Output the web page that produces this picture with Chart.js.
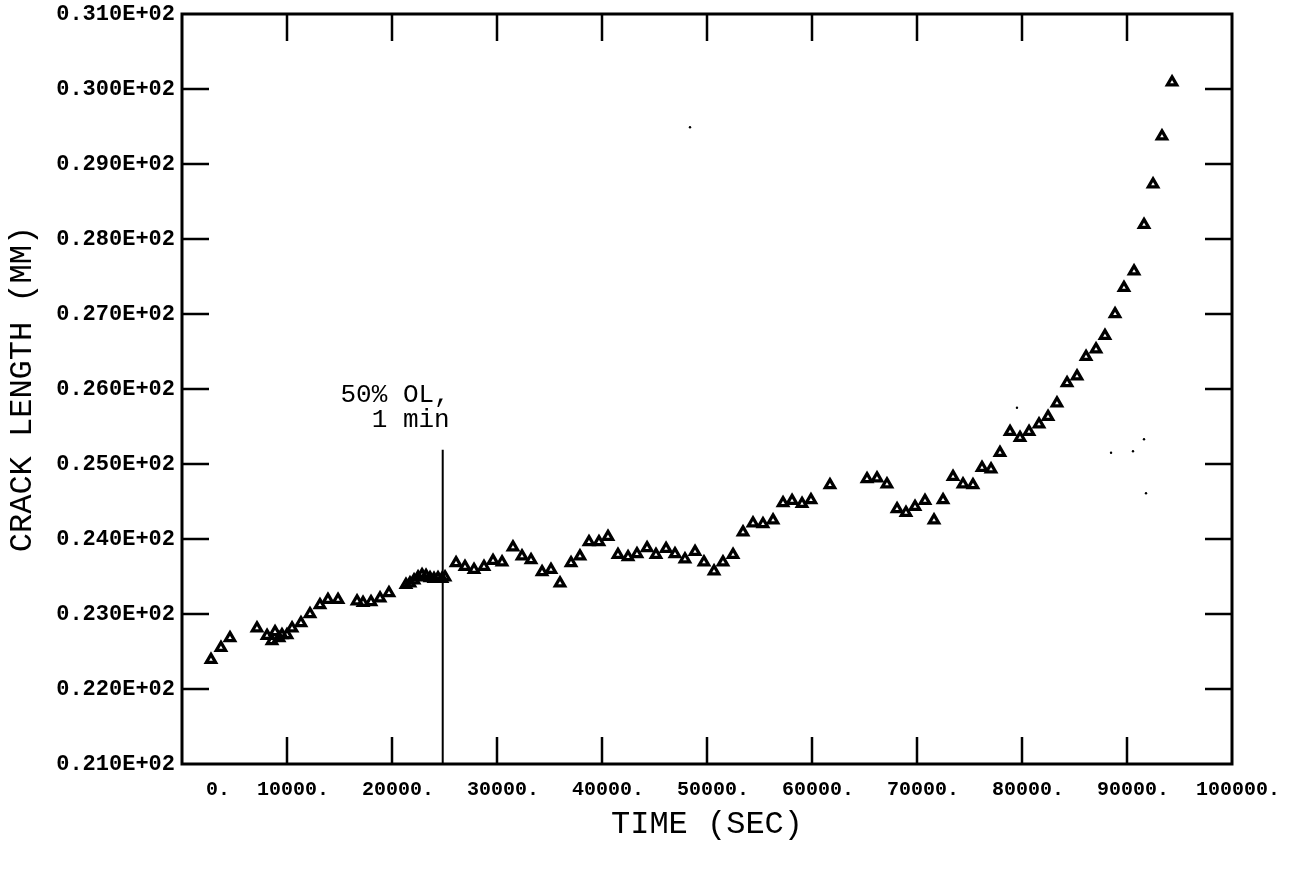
<!DOCTYPE html>
<html>
<head>
<meta charset="utf-8">
<script src="https://cdn.jsdelivr.net/npm/chart.js@4.4.1/dist/chart.umd.min.js"></script>
<style>
html,body{margin:0;padding:0;background:#fff;}
#wrap{width:1293px;height:871px;}
canvas{display:block;}
</style>
</head>
<body>
<div id="wrap"><canvas id="c" width="1293" height="871"></canvas></div>
<script>
// ---- data ----
const timeSec = [
  2760, 3710, 4570, 7140, 8100, 8570, 8860, 9240, 9520, 10000,
  10480, 11330, 12190, 13140, 13900, 14860, 16670, 17240, 18000, 18860,
  19710, 21330, 21710, 22100, 22480, 22860, 23240, 23620, 24000, 24380,
  24760, 25050, 26100, 26950, 27810, 28760, 29620, 30480, 31520, 32380,
  33240, 34290, 35140, 36000, 37050, 37900, 38760, 39710, 40570, 41520,
  42480, 43330, 44290, 45140, 46100, 46950, 47900, 48860, 49710, 50670,
  51520, 52480, 53430, 54380, 55330, 56290, 57240, 58100, 59050, 59900,
  61710, 65240, 66190, 67140, 68100, 68950, 69810, 70760, 71620, 72480,
  73430, 74380, 75330, 76190, 77050, 77900, 78860, 79810, 80670, 81620,
  82480, 83330, 84290, 85240, 86100, 87050, 87900, 88860, 89710, 90670,
  91620, 92480, 93330, 94290
];
const crackMm = [
  22.39, 22.55, 22.68, 22.81, 22.71, 22.64, 22.76, 22.68, 22.72, 22.72,
  22.81, 22.88, 23.00, 23.12, 23.19, 23.19, 23.17, 23.15, 23.16, 23.21,
  23.28, 23.39, 23.41, 23.45, 23.49, 23.52, 23.51, 23.48, 23.47, 23.48,
  23.47, 23.49, 23.68, 23.63, 23.59, 23.63, 23.71, 23.69, 23.89, 23.77,
  23.72, 23.56, 23.59, 23.41, 23.68, 23.77, 23.96, 23.96, 24.03, 23.79,
  23.76, 23.80, 23.88, 23.79, 23.87, 23.80, 23.73, 23.83, 23.69, 23.57,
  23.69, 23.79, 24.09, 24.21, 24.20, 24.25, 24.48, 24.51, 24.47, 24.52,
  24.72, 24.80, 24.81, 24.73, 24.40, 24.35, 24.43, 24.51, 24.25, 24.52,
  24.83, 24.73, 24.72, 24.95, 24.93, 25.15, 25.43, 25.35, 25.43, 25.53,
  25.63, 25.81, 26.08, 26.17, 26.43, 26.53, 26.71, 27.00, 27.35, 27.57,
  28.19, 28.73, 29.37, 30.09
];
// stray specks visible in the scanned plot
const speckTime = [48380, 79520, 88480, 90570, 91620, 91810];
const speckMm   = [29.49, 25.75, 25.15, 25.17, 25.33, 24.61];

// overload marker
const overloadTime = 24830;
const overloadTop = 25.19;
const overloadText = ['50% OL,', ' 1 min'];

// axes
const xMin = 0, xMax = 100000;
const yMin = 21, yMax = 31;
const xTickValues = [0, 10000, 20000, 30000, 40000, 50000, 60000, 70000, 80000, 90000, 100000];
const xTickLabels = ['      0.', ' 10000.', ' 20000.', ' 30000.', ' 40000.', ' 50000.', ' 60000.', ' 70000.', ' 80000.', ' 90000.', ' 100000.'];
const yTickValues = [21, 22, 23, 24, 25, 26, 27, 28, 29, 30, 31];
const yTickLabels = ['0.210E+02', '0.220E+02', '0.230E+02', '0.240E+02', '0.250E+02', '0.260E+02', '0.270E+02', '0.280E+02', '0.290E+02', '0.300E+02', '0.310E+02'];
const xTitle = 'TIME (SEC)';
const yTitle = 'CRACK LENGTH (MM)';

const framePlugin = {
  id: 'frame',
  afterDatasetsDraw(chart) {
    const {ctx, chartArea: a, scales} = chart;
    const xs = scales.x, ys = scales.y;
    ctx.save();
    ctx.strokeStyle = '#000';
    ctx.lineCap = 'butt';
    // inward tick marks on all four sides
    ctx.lineWidth = 2.5;
    const tl = 27;
    ctx.beginPath();
    xTickValues.forEach(v => {
      if (v <= xMin || v >= xMax) return;
      const px = Math.round(xs.getPixelForValue(v));
      ctx.moveTo(px, a.bottom); ctx.lineTo(px, a.bottom - tl);
      ctx.moveTo(px, a.top); ctx.lineTo(px, a.top + tl);
    });
    yTickValues.forEach(v => {
      if (v <= yMin || v >= yMax) return;
      const py = Math.round(ys.getPixelForValue(v));
      ctx.moveTo(a.left, py); ctx.lineTo(a.left + tl, py);
      ctx.moveTo(a.right, py); ctx.lineTo(a.right - tl, py);
    });
    ctx.stroke();
    // frame
    ctx.lineWidth = 3;
    ctx.strokeRect(a.left, a.top, a.right - a.left, a.bottom - a.top);
    // overload annotation text
    const lx = xs.getPixelForValue(overloadTime);
    const ly = ys.getPixelForValue(overloadTop);
    ctx.fillStyle = '#000';
    ctx.font = '26px "Liberation Mono", "DejaVu Sans Mono", monospace';
    ctx.textAlign = 'right';
    ctx.textBaseline = 'alphabetic';
    ctx.fillText(overloadText[0], lx + 7, ly - 48);
    ctx.fillText(overloadText[1], lx + 7, ly - 23);
    ctx.restore();
  }
};

new Chart(document.getElementById('c'), {
  type: 'scatter',
  data: {
    datasets: [
      {
        label: 'Crack length',
        data: timeSec.map((t, i) => ({x: t, y: crackMm[i]})),
        pointStyle: 'triangle',
        pointRadius: 5.4,
        pointBorderWidth: 3.2,
        borderColor: '#000',
        backgroundColor: 'rgba(0,0,0,0)',
        showLine: false
      },
      {
        label: 'Overload',
        data: [{x: overloadTime, y: overloadTop}, {x: overloadTime, y: yMin}],
        showLine: true,
        borderColor: '#000',
        borderWidth: 2,
        pointRadius: 0
      },
      {
        label: 'Specks',
        data: speckTime.map((t, i) => ({x: t, y: speckMm[i]})),
        pointStyle: 'circle',
        pointRadius: 1.2,
        borderWidth: 0,
        backgroundColor: '#000',
        showLine: false
      }
    ]
  },
  options: {
    responsive: false,
    animation: false,
    devicePixelRatio: 1,
    layout: {padding: {top: 14, right: 61, left: 0, bottom: 0}},
    plugins: {legend: {display: false}, tooltip: {enabled: false}},
    scales: {
      x: {
        type: 'linear', min: xMin, max: xMax,
        afterBuildTicks: s => { s.ticks = xTickValues.map(v => ({value: v})); },
        afterFit: s => { s.height = 107; s.paddingLeft = 0; s.paddingRight = 0; },
        grid: {display: false, drawTicks: false},
        border: {display: false},
        ticks: {
          autoSkip: false, maxRotation: 0, minRotation: 0, padding: 14, color: '#000',
          font: {family: '"Liberation Mono", "DejaVu Sans Mono", monospace', weight: 'bold', size: 20},
          callback: v => xTickLabels[xTickValues.indexOf(v)]
        },
        title: {
          display: true, text: xTitle, color: '#000',
          font: {family: '"Liberation Mono", "DejaVu Sans Mono", monospace', size: 32},
          padding: {top: 0, bottom: 27}
        }
      },
      y: {
        type: 'linear', min: yMin, max: yMax,
        afterBuildTicks: s => { s.ticks = yTickValues.map(v => ({value: v})); },
        afterFit: s => { s.width = 182; s.paddingTop = 0; s.paddingBottom = 0; },
        grid: {display: false, drawTicks: false},
        border: {display: false},
        ticks: {
          autoSkip: false, padding: 7, color: '#000',
          font: {family: '"Liberation Mono", "DejaVu Sans Mono", monospace', weight: 'bold', size: 22},
          callback: v => yTickLabels[yTickValues.indexOf(v)]
        },
        title: {
          display: true, text: yTitle, color: '#000',
          font: {family: '"Liberation Mono", "DejaVu Sans Mono", monospace', size: 32},
          padding: {top: 3, bottom: 0}
        }
      }
    }
  },
  plugins: [framePlugin]
});
</script>
</body>
</html>
